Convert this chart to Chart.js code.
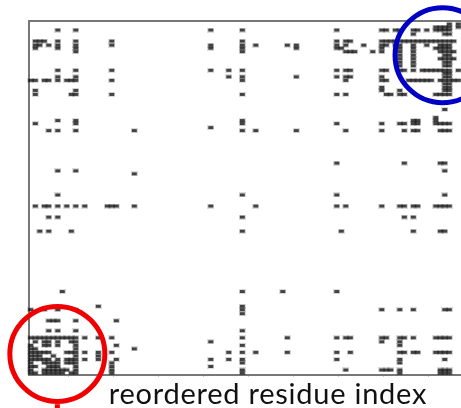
<!DOCTYPE html>
<html><head><meta charset="utf-8">
<script src="https://cdn.jsdelivr.net/npm/chart.js@4"></script>
<style>html,body{margin:0;padding:0;background:#fff}canvas{display:block}</style>
</head><body><canvas id="c" width="461" height="408"></canvas>
<script>
const axisLabel = "reordered residue index";
const tickPositions = [8.4,18.4,28.4,38.4,48.4,58.4,68.4,78.4,88.4];
const blueCentre = {x:91.5,y:318};
const redCentre = {x:5.9,y:21};
const redStem = [{x:5.9,y:-29},{x:5.9,y:-36}];
const rowY = [349,346,343,339,332,328,325,321.5,318,314.5,311,307.5,303,300,296.5,293,289.5,286,283,279,264,256,253,250,246,243,210.7,203,200,179,168,157,143,83,68.3,65,61,54,44,37,33,29.5,26,22.5,19,15.5,12,8.5,5,2];
const rowCols = [
[93,95],
[90,91,92,93,95],
[6,10,40,47,68,78,79,81,82,85,86,88,90,91,92,93],
[85,92,93],
[1,2,3,6,10,18,47,68,70,71,78,79,80,81,82,83,84,85,86,87,88,89,90,91,92,93,94],
[1,2,4,6,10,18,40,47,50,57,59,68,70,74,78,79,81,82,85,88,91,92,93],
[1,6,10,40,47,59,68,69,78,82,85,90,91,92,93],
[10,47,70,71,72,76,78,82,85,91,92,93,94],
[82,85,92,93],
[82,85,91,92,93,94],
[82,85,92,93],
[82,85,92,93],
[6,10,18,40,44,47,68,70,71,78,79,82,83,85,87,88,89,90,91,92,93,95],
[92,93],
[6,10,44,47,59,68,70,71,78,92,93],
[0,1,3,4,6,8,9,10,18,47,70,78,79,84,85,86,87,88,89,91,92,93,94,95],
[92,93],
[78,92,93],
[1,10,78,82,92,93],
[1,9,10,18,47,68,70,79,80,82,83,90,91,92,93],
[92],
[90],
[6,10,47,85,86,90],
[1,10,47,68,78,82,83,85,86,90,91,92,93],
[40],
[4,6,10,23,47,50,59,70,78,83,85,86,91,92,93],
[68,83,91,92],
[6,10,92],
[23],
[6,47,68,92],
[1,3,4,6,8,10,12,17,18,19,23,40,50,68,70,78,82,83,85,86,90,91,92,93],
[4,6,47,83,85],
[2,4,9,47,69,85,91,92],
[7,47,56,68],
[15,47],
[0,3,6,10,47,78,82,85,92,93],
[47],
[4,5,6,10,19],
[4,6,10,47],
[0,1,2,3,4,5,6,7,8,9,10,12,15,18,47,57,68,70,71,78,79,82,83,85,90,91,92,93],
[1,3,4,6,9,10,40,78,82],
[0,3,4,6,10,19,47,82],
[0,1,10,23],
[0,1,2,3,4,8,9,10,12,15,18,44,47,50,57,68,71,82,83,85,86,90,91,92,93],
[0,1,2,5,10,15],
[0,1,2,3,4,6,8,9,10,12,15,19,40,44,47,68,82,92],
[0,3,4,5,6,8,9,10,18,47,82],
[0,1,4,5,6,10,18,40],
[0,3,4,5,6,7,8,10,18,47,70,78,79,80,82,91,92,93],
[0,1,3,4,5,6,7,9,10,18,47,82,91,92,93]
];
const contacts = [];
rowY.forEach((y,i)=>rowCols[i].forEach(x=>contacts.push({x,y})));

const sprite = document.createElement('canvas');
sprite.width = 7; sprite.height = 5;
const s = sprite.getContext('2d');
s.fillStyle = 'rgba(0,0,0,0.14)'; s.fillRect(0,0,7,5);
s.fillStyle = 'rgba(0,0,0,0.7)'; s.fillRect(1,1,5,3);

const labelPlugin = {id:'axisLabel',afterDraw(ch){
  const c = ch.ctx; c.save();
  c.font = '29px Lato'; c.letterSpacing = '0.75px'; c.fillStyle = '#111'; c.textAlign='center'; c.textBaseline='alphabetic';
  c.fillText(axisLabel,268,404); c.restore();
}};
const ring = (centre,color)=>({type:'scatter',data:[centre],pointStyle:'circle',pointRadius:47.5,pointBorderWidth:5,
  pointBackgroundColor:'transparent',pointBorderColor:color,borderColor:color,backgroundColor:'transparent',clip:false,order:0});
new Chart(document.getElementById('c'),{
  type:'scatter',
  data:{datasets:[
    {data:contacts,pointStyle:sprite,pointRadius:3,order:2,clip:false,backgroundColor:'#333',borderColor:'#333'},
    ring(blueCentre,'#0000c4'),
    ring(redCentre,'#f00000'),
    {type:'line',data:redStem,borderColor:'#f00000',borderWidth:5,pointRadius:0,clip:false,order:0,fill:false}
  ]},
  plugins:[labelPlugin],
  options:{
    responsive:false,animation:false,events:[],
    layout:{autoPadding:false,padding:{left:29,top:21,right:0,bottom:0}},
    plugins:{legend:{display:false},tooltip:{enabled:false},title:{display:false}},
    scales:{
      x:{type:'linear',min:-0.4,max:95.6,position:'bottom',
        afterBuildTicks(a){a.ticks=tickPositions.map(value=>({value}));},
        afterFit(a){a.height=33;},
        ticks:{display:false},
        grid:{drawOnChartArea:false,drawTicks:true,tickLength:2,color:'#ccc'},
        border:{color:'#777',width:2}},
      xTop:{type:'linear',min:-0.4,max:95.6,position:'top',
        afterFit(a){a.height=0;},
        ticks:{display:false},grid:{display:false,drawTicks:false},
        border:{color:'#777',width:2}},
      y:{type:'linear',min:0,max:352,position:'left',
        afterFit(a){a.width=0;},
        ticks:{display:false},grid:{display:false,drawTicks:false},
        border:{color:'#777',width:2}}
    }
  }
});
</script></body></html>
